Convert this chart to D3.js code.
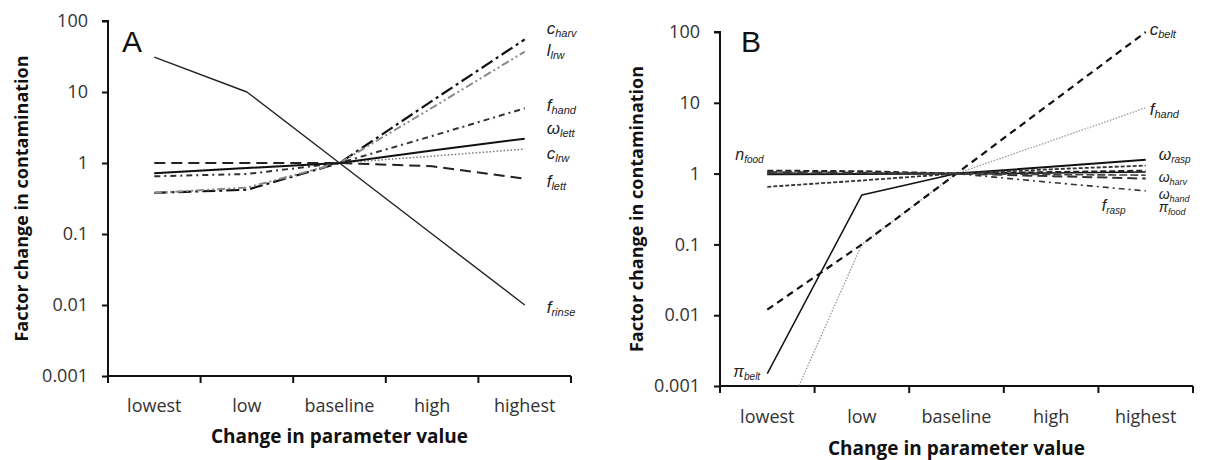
<!DOCTYPE html>
<html><head><meta charset="utf-8">
<script src="https://cdn.jsdelivr.net/npm/d3@7"></script>
<style>
body{margin:0;background:#fff;}
svg{display:block;}
.tick text{font-family:"Open Sans",sans-serif;}
</style></head>
<body>
<svg id="chart" width="1207" height="460"></svg>
<script>
// ---------- data ----------
const categories = ["lowest","low","baseline","high","highest"];
const yTickValues = [0.001,0.01,0.1,1,10,100];
const yTickLabels = ["0.001","0.01","0.1","1","10","100"];

// Panel A series
const A_f_rinse = [31, 10, 1, 0.1, 0.01];
const A_c_harv  = [0.38, 0.42, 1, 7.5, 55];
const A_l_lrw   = [0.38, 0.45, 1, 6, 37];
const A_f_hand  = [0.65, 0.7, 1, 2.4, 5.9];
const A_w_lett  = [0.72, 0.85, 1, 1.5, 2.2];
const A_c_lrw   = [0.72, 0.86, 1, 1.25, 1.57];
const A_f_lett  = [1.0, 1.0, 1, 0.9, 0.6];

// Panel B series
const B_c_belt  = [0.012, 0.1, 1, 10, 100];
const B_f_hand  = [0.0001, 0.1, 1, 2.9, 8.5];
const B_pi_belt = [0.0015, 0.5, 1, 1.02, 1.05];
const B_n_food  = [1.1, 1.08, 1, 1.05, 1.1];
const B_w_rasp  = [0.98, 0.99, 1, 1.25, 1.57];
const B_w_harv  = [0.65, 0.8, 1, 1.15, 1.3];
const B_w_hand  = [1.05, 1.03, 1, 0.92, 0.85];
const B_pi_food = [1.02, 1.01, 1, 0.97, 0.95];
const B_f_rasp  = [1.0, 1.0, 1, 0.75, 0.57];

// ---------- styles ----------
const panels = [
  {
    letter:"A", x0:108, x1:571, yTop:21, yBot:376, letterPos:[122,52],
    yTitleX:21, xTitleY:443, tickLabelY:36,
    series:[
      {v:A_f_rinse, main:"f", sub:"rinse", dash:null, w:1.4, c:"#222", anchor:4, dx:22, dy:8, fs:17},
      {v:A_c_harv, main:"c", sub:"harv", dash:"13,4,3,4", w:2.2, c:"#111", anchor:4, dx:22, dy:-5, fs:17},
      {v:A_l_lrw, main:"l", sub:"lrw", dash:"8,3,2,3,2,3", w:2, c:"#8a8a8a", anchor:4, dx:22, dy:4, fs:17},
      {v:A_f_hand, main:"f", sub:"hand", dash:"6,4,2,4", w:2, c:"#333", anchor:4, dx:22, dy:3, fs:17},
      {v:A_c_lrw, main:"c", sub:"lrw", dash:"1.5,2", w:1.5, c:"#777", anchor:4, dx:22, dy:10, fs:17},
      {v:A_w_lett, main:"ω", sub:"lett", dash:null, w:2, c:"#111", anchor:4, dx:22, dy:-5, fs:17},
      {v:A_f_lett, main:"f", sub:"lett", dash:"11,6", w:2, c:"#222", anchor:4, dx:22, dy:8, fs:17}
    ]
  },
  {
    letter:"B", x0:720, x1:1193, yTop:32, yBot:386, letterPos:[741,52],
    yTitleX:636, xTitleY:455, tickLabelY:37,
    series:[
      {v:B_f_hand, main:"f", sub:"hand", dash:"1.5,1.5", w:1.3, c:"#999", anchor:4, dx:4, dy:7, fs:17},
      {v:B_c_belt, main:"c", sub:"belt", dash:"7,5", w:2.2, c:"#111", anchor:4, dx:4, dy:3, fs:17},
      {v:B_pi_belt, main:"π", sub:"belt", dash:null, w:1.5, c:"#111", anchor:0, dx:-34, dy:3, fs:16},
      {v:B_n_food, main:"n", sub:"food", dash:"6,3", w:2, c:"#222", anchor:0, dx:-32, dy:-11, fs:16},
      {v:B_w_rasp, main:"ω", sub:"rasp", dash:null, w:2, c:"#111", anchor:4, dx:13, dy:0, fs:16},
      {v:B_w_harv, main:"ω", sub:"harv", dash:"4,2", w:1.8, c:"#333", anchor:4, dx:13, dy:16.5, fs:14},
      {v:B_w_hand, main:"ω", sub:"hand", dash:"10,5", w:2, c:"#333", anchor:4, dx:13, dy:20, fs:14},
      {v:B_pi_food, main:"π", sub:"food", dash:"8,3", w:1.6, c:"#444", anchor:4, dx:13, dy:37, fs:14},
      {v:B_f_rasp, main:"f", sub:"rasp", dash:"6,4,2,4", w:1.6, c:"#333", anchor:4, dx:-44, dy:20, fs:16}
    ]
  }
];

const svg = d3.select("#chart");

panels.forEach((p, pi) => {
  const x = d3.scaleBand().domain(categories).range([p.x0, p.x1]).paddingInner(0).paddingOuter(0);
  const y = d3.scaleLog().domain([0.001, 100]).range([p.yBot, p.yTop]);
  const g = svg.append("g");

  const clipId = "clip" + pi;
  svg.append("clipPath").attr("id", clipId).append("rect")
    .attr("x", p.x0).attr("y", p.yTop - 5).attr("width", p.x1 - p.x0 + 10).attr("height", p.yBot - p.yTop + 5);

  // y axis
  const yAxis = d3.axisLeft(y).tickValues(yTickValues)
    .tickFormat((d,i) => yTickLabels[i]).tickSize(6).tickPadding(14);
  const ya = g.append("g").attr("transform", `translate(${p.x0},0)`).call(yAxis);
  ya.select(".domain").attr("stroke", "#111").attr("stroke-width", 2).attr("d", `M-6,${p.yTop}H0V${p.yBot}`);
  ya.selectAll(".tick line").attr("stroke", "#111").attr("stroke-width", 2);
  ya.selectAll(".tick text").attr("font-size", 18).attr("fill", "#333");

  // x axis (ticks at band boundaries)
  const xAxis = d3.axisBottom(x).tickSize(0).tickPadding(p.tickLabelY - 13);
  const xa = g.append("g").attr("transform", `translate(0,${p.yBot})`).call(xAxis);
  xa.select(".domain").attr("stroke", "#111").attr("stroke-width", 2).attr("d", `M${p.x0},0H${p.x1}`);
  xa.selectAll(".tick text").attr("font-size", 18).attr("fill", "#333");
  const bounds = categories.map(c => x(c)).concat([x(categories[categories.length-1]) + x.bandwidth()]);
  xa.selectAll(".bt").data(bounds).enter().append("line")
    .attr("x1", d => d).attr("x2", d => d).attr("y1", 0).attr("y2", 7)
    .attr("stroke", "#111").attr("stroke-width", 2);

  // titles
  g.append("text").attr("transform", `translate(${p.yTitleX},${(p.yTop + p.yBot)/2}) rotate(-90)`)
    .attr("text-anchor", "middle").attr("dominant-baseline", "central")
    .attr("font-family", "Open Sans, sans-serif").attr("font-weight", "bold").attr("font-size", 18)
    .attr("fill", "#111").text("Factor change in contamination");
  g.append("text").attr("x", (p.x0 + p.x1)/2).attr("y", p.xTitleY)
    .attr("text-anchor", "middle")
    .attr("font-family", "Open Sans, sans-serif").attr("font-weight", "bold").attr("font-size", 19)
    .attr("fill", "#111").text("Change in parameter value");
  g.append("text").attr("x", p.letterPos[0]).attr("y", p.letterPos[1])
    .attr("font-family", "Liberation Sans, Arial, sans-serif").attr("font-size", 30)
    .attr("fill", "#111").text(p.letter);

  // lines
  const line = d3.line().x((d,i) => x(categories[i]) + x.bandwidth()/2).y(d => y(d));
  const lg = g.append("g").attr("clip-path", `url(#${clipId})`);
  p.series.forEach(s => {
    lg.append("path").datum(s.v).attr("d", line)
      .attr("fill", "none").attr("stroke", s.c).attr("stroke-width", s.w)
      .attr("stroke-dasharray", s.dash).attr("stroke-linejoin", "round");
  });

  // labels
  p.series.forEach(s => {
    const ax = x(categories[s.anchor]) + x.bandwidth()/2;
    const ay = y(s.v[s.anchor]);
    const t = g.append("text").attr("x", ax + s.dx).attr("y", ay + s.dy)
      .attr("font-family", "Liberation Sans, Arial, sans-serif").attr("font-style", "italic")
      .attr("fill", "#222");
    t.append("tspan").attr("font-size", s.fs).text(s.main);
    t.append("tspan").attr("font-size", Math.round(s.fs * 0.65)).attr("dy", 3).text(s.sub);
  });
});
</script>
</body></html>
